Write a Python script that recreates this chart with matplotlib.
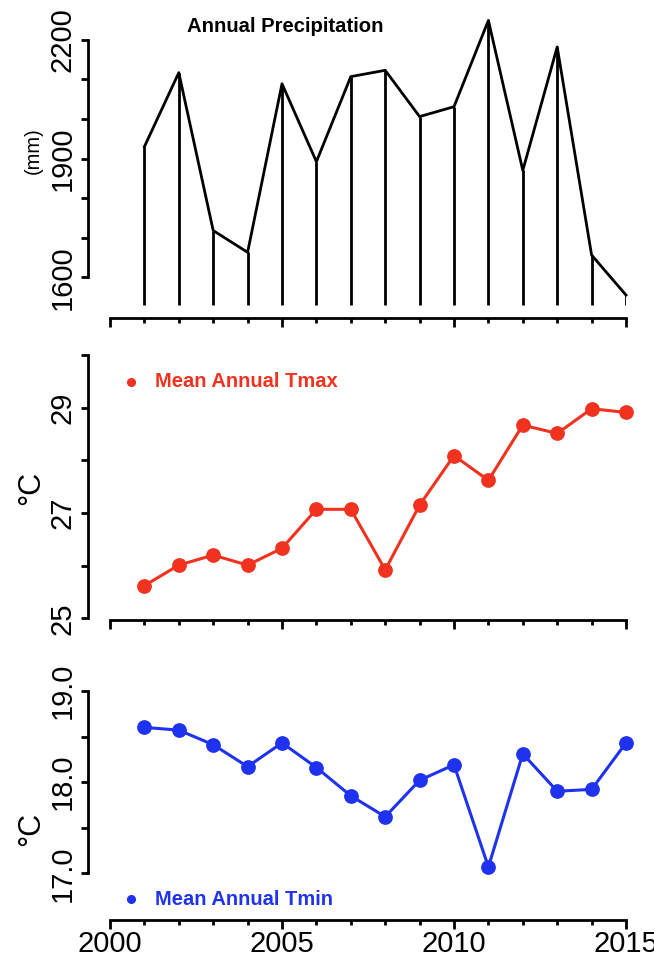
import numpy as np
import matplotlib
matplotlib.use("Agg")
import matplotlib.pyplot as plt
from matplotlib.ticker import FixedLocator, FuncFormatter

plt.rcParams['font.family'] = ['Liberation Sans', 'DejaVu Sans']

years = np.arange(2001, 2016)
precip = [1930, 2117, 1718, 1663, 2089, 1892, 2107, 2123, 2006, 2031,
          2249, 1870, 2182, 1656, 1555]
tmax = [25.62, 26.01, 26.20, 26.01, 26.33, 27.07, 27.07, 25.92, 27.15, 28.09,
        27.62, 28.67, 28.51, 28.98, 28.91]
tmin = [18.60, 18.57, 18.41, 18.17, 18.43, 18.16, 17.85, 17.62, 18.02, 18.19,
        17.07, 18.31, 17.90, 17.92, 18.43]
year_labels = [2000, 2005, 2010, 2015]

RED = '#F0321E'
BLUE = '#1E32F0'
W, H = 654, 959
LW = 2.0

fig = plt.figure(figsize=(W / 100, H / 100), dpi=100)


def px_axes(left, top, right, bottom):
    return fig.add_axes([left / W, 1 - bottom / H, (right - left) / W, (bottom - top) / H])


def style(ax, ylim, ymajor, yminor, yfmt, xlabels):
    ax.set_xlim(2000, 2015)
    ax.set_ylim(*ylim)
    for s in ['top', 'right']:
        ax.spines[s].set_visible(False)
    ax.spines['left'].set_position(('outward', 15.8))
    ax.spines['left'].set_bounds(min(ymajor + yminor), max(ymajor + yminor))
    ax.spines['bottom'].set_bounds(2000, 2015)
    for s in ['left', 'bottom']:
        ax.spines[s].set_linewidth(LW)
    ax.xaxis.set_major_locator(FixedLocator(year_labels))
    ax.xaxis.set_minor_locator(FixedLocator([y for y in range(2000, 2016) if y not in year_labels]))
    ax.yaxis.set_major_locator(FixedLocator(ymajor))
    ax.yaxis.set_minor_locator(FixedLocator(yminor))
    ax.yaxis.set_major_formatter(FuncFormatter(lambda v, p: yfmt.format(v)))
    ax.tick_params(axis='x', which='major', length=6.5, width=LW, labelsize=21, pad=1,
                   labelbottom=xlabels)
    ax.tick_params(axis='x', which='minor', length=3.5, width=LW)
    ax.tick_params(axis='y', which='both', length=5.4, width=LW, labelsize=21, pad=3)
    plt.setp(ax.get_yticklabels(), rotation=90, va='center')


# precipitation
ax1 = px_axes(110, 5, 626, 318)
ax1.plot(years, precip, color='black', lw=LW, clip_on=False)
ax1.vlines(years, 1530, precip, color='black', lw=LW)
style(ax1, (1497, 2288), [1600, 1900, 2200], [1700, 1800, 2000, 2100], '{:.0f}', False)
ax1.text(0.339, 0.93, 'Annual Precipitation', transform=ax1.transAxes, ha='center',
         va='center', fontsize=14.6, fontweight='bold')
fig.text(33 / W, 1 - 151 / H, '(mm)', rotation=90, ha='center', va='center', fontsize=14.5)

# Tmax
ax2 = px_axes(110, 345, 626, 620)
ax2.plot(years, tmax, color=RED, lw=2.2, marker='o', markersize=9.6, clip_on=False)
style(ax2, (24.968, 30.19), [25, 27, 29], [26, 28, 30], '{:.0f}', False)
ax2.plot([0.04], [0.8665], 'o', color=RED, markersize=5.5, transform=ax2.transAxes)
ax2.text(0.0872, 0.8665, 'Mean Annual Tmax', transform=ax2.transAxes, ha='left',
         va='center', color=RED, fontsize=14.5, fontweight='bold')
fig.text(31 / W, 1 - 488 / H, '\u00b0C', rotation=90, ha='center', va='center', fontsize=22)

# Tmin
ax3 = px_axes(110, 660, 626, 920)
ax3.plot(years, tmin, color=BLUE, lw=2.2, marker='o', markersize=9.6, clip_on=False)
style(ax3, (16.488, 19.339), [17, 18, 19], [17.5, 18.5], '{:.1f}', True)
ax3.plot([0.04], [0.0796], 'o', color=BLUE, markersize=5.5, transform=ax3.transAxes)
ax3.text(0.0872, 0.0796, 'Mean Annual Tmin', transform=ax3.transAxes, ha='left',
         va='center', color=BLUE, fontsize=14.5, fontweight='bold')
fig.text(31 / W, 1 - 829 / H, '\u00b0C', rotation=90, ha='center', va='center', fontsize=22)

fig.savefig('out.png', dpi=100)
